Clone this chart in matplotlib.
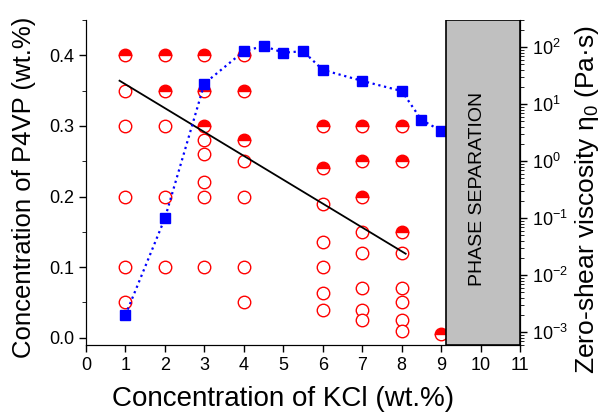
import matplotlib
matplotlib.use("Agg")
import matplotlib.pyplot as plt
import numpy as np
from matplotlib.ticker import MultipleLocator, LogLocator, NullFormatter

plt.rcParams["font.family"] = ["Liberation Sans", "DejaVu Sans"]
plt.rcParams["mathtext.fontset"] = "custom"
plt.rcParams["mathtext.rm"] = "Liberation Sans"
plt.rcParams["mathtext.it"] = "Liberation Sans:italic"

# open circles: single phase samples
open_x = [1, 1, 1, 1, 1,
          2, 2, 2,
          3, 3, 3, 3, 3,
          4, 4, 4, 4,
          6, 6, 6, 6, 6,
          7, 7, 7, 7, 7,
          8, 8, 8, 8, 8]
open_y = [0.35, 0.3, 0.2, 0.1, 0.05,
          0.3, 0.2, 0.1,
          0.28, 0.26, 0.22, 0.2, 0.1,
          0.25, 0.2, 0.1, 0.05,
          0.19, 0.136, 0.1, 0.063, 0.04,
          0.15, 0.12, 0.07, 0.04, 0.025,
          0.12, 0.07, 0.05, 0.025, 0.01]

# half filled circles
half_x = [1, 2, 2, 3, 3, 3, 4, 4, 4, 6, 6, 7, 7, 7, 8, 8, 8, 9]
half_y = [0.4, 0.4, 0.35, 0.4, 0.35, 0.3, 0.4, 0.35, 0.28,
          0.3, 0.24, 0.3, 0.25, 0.2, 0.3, 0.25, 0.15, 0.005]

# boundary line
fit_x = [0.85, 8.1]
fit_y = [0.364, 0.119]

# zero-shear viscosity
visc_x = [1, 2, 3, 4, 4.5, 5, 5.5, 6, 7, 8, 8.5, 9]
visc_y = [0.002, 0.1, 23, 85, 105, 80, 85, 40, 25.6, 17, 5.3, 3.4]

fig = plt.figure(figsize=(6.03, 4.12), dpi=100)
ax = fig.add_axes([0.1426, 0.163, 0.72, 0.7885])

ax.plot(open_x, open_y, "o", ms=9, mfc="white", mec="red", mew=1, ls="none", zorder=3)
ax.plot(half_x, half_y, "o", ms=9, mfc="red", mec="red", mew=1, fillstyle="top",
        markerfacecoloralt="white", ls="none", zorder=3)
ax.plot(fit_x, fit_y, color="black", lw=1.3, zorder=4)

ax.set_xlim(0, 11)
ax.set_ylim(-0.01, 0.45)
ax.xaxis.set_major_locator(MultipleLocator(1))
ax.yaxis.set_major_locator(MultipleLocator(0.1))
ax.yaxis.set_minor_locator(MultipleLocator(0.05))
ax.yaxis.set_major_formatter(matplotlib.ticker.FormatStrFormatter("%.1f"))
ax.tick_params(direction="out", labelsize=13, width=1, length=5)
ax.tick_params(which="minor", direction="out", length=3)
ax.spines["top"].set_visible(False)
ax.set_xlabel("Concentration of KCl (wt.%)", fontsize=20)
ax.xaxis.set_label_coords(0.455, -0.127)
ax.set_ylabel("Concentration of P4VP (wt.%)", fontsize=18.5)
ax.yaxis.set_label_coords(-0.115, 0.485)

ax2 = ax.twinx()
ax2.set_yscale("log")
ax2.set_ylim(6e-4, 300)
ax2.plot(visc_x, visc_y, color="blue", ls=":", lw=1.6, marker="s", ms=7,
         mfc="blue", mec="blue", zorder=3)
ax2.axvspan(9.13, 11, facecolor="#c0c0c0", edgecolor="black", lw=1.2, zorder=5)
ax2.text(9.93, 0.48, "PHASE SEPARATION", rotation=90, ha="center", va="center",
         fontsize=14, zorder=6, transform=ax2.get_xaxis_transform())
ax2.yaxis.set_major_locator(LogLocator(base=10, numticks=10))
ax2.yaxis.set_minor_locator(LogLocator(base=10, subs=np.arange(2, 10), numticks=10))
ax2.yaxis.set_minor_formatter(NullFormatter())
ax2.tick_params(direction="out", labelsize=13, width=1, length=5)
ax2.tick_params(which="minor", direction="out", length=3)
ax2.spines["top"].set_visible(False)
ax2.set_ylabel("Zero-shear viscosity η$_0$ (Pa·s)", fontsize=19)
ax2.yaxis.set_label_coords(1.122, 0.446)

fig.savefig("out.png", dpi=100)
